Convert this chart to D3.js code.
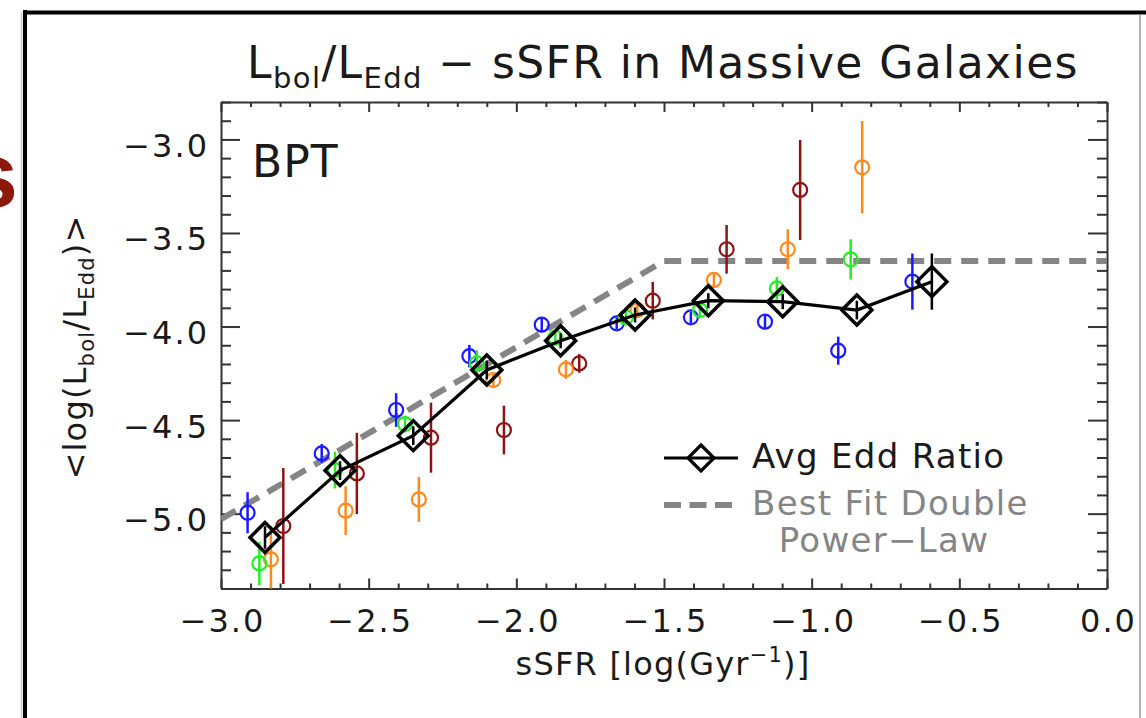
<!DOCTYPE html>
<html>
<head>
<meta charset="utf-8">
<script src="https://cdn.jsdelivr.net/npm/d3@7"></script>
<style>
  html, body { margin: 0; padding: 0; background: #fff; }
  svg { display: block; }
  text { font-family: "DejaVu Sans", sans-serif; fill: #1a1a1a; }
</style>
</head>
<body>
<svg id="chart" width="1146" height="718"></svg>
<script>
// ---------------- data ----------------
const xDomain = [-3.0, 0.0];
const yDomain = [-5.4, -2.8];
const xMajorTicks = [-3.0, -2.5, -2.0, -1.5, -1.0, -0.5, 0.0];
const yMajorTicks = [-5.0, -4.5, -4.0, -3.5, -3.0];

const blueX   = [-2.910, -2.659, -2.407, -2.159, -1.914, -1.660, -1.409, -1.158, -0.910, -0.659];
const blueY   = [-4.995, -4.678, -4.446, -4.158, -3.990, -3.983, -3.951, -3.974, -4.129, -3.760];
const blueErr = [0.11, 0.05, 0.09, 0.06, 0.04, 0.03, 0.03, 0.04, 0.075, 0.15];

const greenX   = [-2.870, -2.614, -2.377, -2.134, -1.868, -1.629, -1.378, -1.118, -0.868];
const greenY   = [-5.266, -4.767, -4.521, -4.197, -4.060, -3.951, -3.912, -3.796, -3.641];
const greenErr = [0.115, 0.098, 0.045, 0.07, 0.03, 0.04, 0.04, 0.06, 0.108];

const orangeX   = [-2.831, -2.578, -2.330, -2.078, -1.832, -1.590, -1.331, -1.081, -0.829];
const orangeY   = [-5.244, -4.984, -4.924, -4.286, -4.229, -3.912, -3.751, -3.587, -3.149];
const orangeErr = [0.18, 0.13, 0.12, 0.04, 0.05, 0.04, 0.035, 0.107, 0.247];

const redX   = [-2.789, -2.540, -2.289, -2.042, -1.787, -1.538, -1.288, -1.039];
const redY   = [-5.066, -4.785, -4.594, -4.553, -4.197, -3.862, -3.587, -3.270];
const redErr = [0.31, 0.217, 0.187, 0.13, 0.05, 0.10, 0.13, 0.267];

const avgX   = [-2.851, -2.597, -2.349, -2.100, -1.850, -1.598, -1.350, -1.098, -0.847, -0.593];
const avgY   = [-5.127, -4.770, -4.583, -4.232, -4.076, -3.938, -3.862, -3.867, -3.912, -3.760];
const avgErr = [0.06, 0.05, 0.05, 0.05, 0.04, 0.04, 0.04, 0.04, 0.05, 0.15];

const fitX = [-3.0, -1.5, 0.0];
const fitY = [-5.03, -3.65, -3.65];

const seriesColors = { blue: "#1a1aff", green: "#22ee22", orange: "#ff8a1c", red: "#8e1414" };

// ---------------- layout ----------------
const svg = d3.select("#chart");
const L = 221, R = 1107, T = 102, B = 588.5;
const x = d3.scaleLinear().domain(xDomain).range([L, R]);
const y = d3.scaleLinear().domain(yDomain).range([B, T]);

// slide frame
svg.append("line").attr("x1", 21.5).attr("x2", 21.5).attr("y1", 12).attr("y2", 718)
  .attr("stroke", "#c8c8c8").attr("stroke-width", 1.5);
svg.append("line").attr("x1", 25).attr("x2", 25).attr("y1", 10).attr("y2", 718)
  .attr("stroke", "#000").attr("stroke-width", 4);
svg.append("line").attr("x1", 23).attr("x2", 1146).attr("y1", 12.5).attr("y2", 12.5)
  .attr("stroke", "#000").attr("stroke-width", 4);
svg.append("line").attr("x1", 1140).attr("x2", 1140).attr("y1", 14).attr("y2", 718)
  .attr("stroke", "#9a9a9a").attr("stroke-width", 1.5);

// red partial letter at the left edge (cut off in the reference too)
svg.append("text").attr("x", 18).attr("y", 207).attr("text-anchor", "end")
  .style("font-family", "'Liberation Sans', sans-serif").style("font-weight", "bold")
  .style("font-size", "92px").style("fill", "#8b1a0c").text("s");

// clip
svg.append("clipPath").attr("id", "plotclip").append("rect")
  .attr("x", L).attr("y", T).attr("width", R - L).attr("height", B - T);

// ---------------- axes ----------------
const fmt = d3.format(".1f");
const minorX = d3.range(-30, 1).map(d => d / 10).filter(v => !xMajorTicks.some(m => Math.abs(m - v) < 1e-6));
const minorY = d3.range(-54, -27).map(d => d / 10).filter(v => !yMajorTicks.some(m => Math.abs(m - v) < 1e-6));

function styleAxis(g) {
  g.selectAll("path.domain").attr("stroke", "#333").attr("stroke-width", 2);
  g.selectAll(".tick line").attr("stroke", "#333").attr("stroke-width", 2);
}

// bottom
const gB = svg.append("g").attr("transform", `translate(0,${B})`)
  .call(d3.axisBottom(x).tickValues(xMajorTicks).tickSize(-10).tickSizeOuter(0).tickFormat(fmt));
gB.selectAll("text").attr("y", 43.5).attr("dy", null).attr("dx", 1)
  .style("font-size", "32px").style("letter-spacing", "2px").style("fill", "#1a1a1a");
svg.append("g").attr("transform", `translate(0,${B})`)
  .call(d3.axisBottom(x).tickValues(minorX).tickSize(-5).tickSizeOuter(0).tickFormat(""))
  .call(g => g.select(".domain").remove()).call(styleAxis);
styleAxis(gB);
// top
svg.append("g").attr("transform", `translate(0,${T})`)
  .call(d3.axisTop(x).tickValues(xMajorTicks).tickSize(-10).tickSizeOuter(0).tickFormat(""))
  .call(styleAxis);
svg.append("g").attr("transform", `translate(0,${T})`)
  .call(d3.axisTop(x).tickValues(minorX).tickSize(-5).tickSizeOuter(0).tickFormat(""))
  .call(g => g.select(".domain").remove()).call(styleAxis);
// left
const gL = svg.append("g").attr("transform", `translate(${L},0)`)
  .call(d3.axisLeft(y).tickValues(yMajorTicks).tickSize(-19).tickSizeOuter(0).tickFormat(fmt));
gL.selectAll("text").attr("x", -12).attr("dy", null).attr("y", 17)
  .style("font-size", "32px").style("letter-spacing", "2px").style("fill", "#1a1a1a");
styleAxis(gL);
svg.append("g").attr("transform", `translate(${L},0)`)
  .call(d3.axisLeft(y).tickValues(minorY).tickSize(-10).tickSizeOuter(0).tickFormat(""))
  .call(g => g.select(".domain").remove()).call(styleAxis);
// right
svg.append("g").attr("transform", `translate(${R},0)`)
  .call(d3.axisRight(y).tickValues(yMajorTicks).tickSize(-19).tickSizeOuter(0).tickFormat(""))
  .call(styleAxis);
svg.append("g").attr("transform", `translate(${R},0)`)
  .call(d3.axisRight(y).tickValues(minorY).tickSize(-10).tickSizeOuter(0).tickFormat(""))
  .call(g => g.select(".domain").remove()).call(styleAxis);

// ---------------- marks ----------------
const plot = svg.append("g").attr("clip-path", "url(#plotclip)");

// best-fit double power law
const fitData = fitX.map((v, i) => [v, fitY[i]]);
plot.append("path").datum(fitData)
  .attr("d", d3.line().x(d => x(d[0])).y(d => y(d[1])))
  .attr("fill", "none").attr("stroke", "#858585").attr("stroke-width", 6)
  .attr("stroke-dasharray", "17,10");

function drawSeries(xs, ys, es, color) {
  const data = xs.map((v, i) => ({ x: v, y: ys[i], e: es[i] }));
  const g = plot.append("g");
  g.selectAll("line").data(data).join("line")
    .attr("x1", d => x(d.x)).attr("x2", d => x(d.x))
    .attr("y1", d => y(d.y - d.e)).attr("y2", d => y(d.y + d.e))
    .attr("stroke", color).attr("stroke-width", 2.5);
  g.selectAll("circle").data(data).join("circle")
    .attr("cx", d => x(d.x)).attr("cy", d => y(d.y)).attr("r", 7)
    .attr("fill", "none").attr("stroke", color).attr("stroke-width", 2.2);
}
drawSeries(blueX, blueY, blueErr, seriesColors.blue);
drawSeries(redX, redY, redErr, seriesColors.red);
drawSeries(orangeX, orangeY, orangeErr, seriesColors.orange);
drawSeries(greenX, greenY, greenErr, seriesColors.green);

// average Eddington ratio
const avgData = avgX.map((v, i) => ({ x: v, y: avgY[i], e: avgErr[i] }));
plot.append("path").datum(avgData)
  .attr("d", d3.line().x(d => x(d.x)).y(d => y(d.y)))
  .attr("fill", "none").attr("stroke", "#000").attr("stroke-width", 3.2);
plot.append("g").selectAll("line").data(avgData).join("line")
  .attr("x1", d => x(d.x)).attr("x2", d => x(d.x))
  .attr("y1", d => y(d.y - d.e)).attr("y2", d => y(d.y + d.e))
  .attr("stroke", "#000").attr("stroke-width", 2.5);
const dia = 15;
const diamondPath = `M0,${-dia}L${dia},0L0,${dia}L${-dia},0Z`;
plot.append("g").selectAll("path").data(avgData).join("path")
  .attr("transform", d => `translate(${x(d.x)},${y(d.y)})`)
  .attr("d", diamondPath).attr("fill", "none").attr("stroke", "#000")
  .attr("stroke-width", 3.5).attr("stroke-linejoin", "miter");

// ---------------- legend ----------------
const leg = svg.append("g");
leg.append("line").attr("x1", 664).attr("x2", 738).attr("y1", 458).attr("y2", 458)
  .attr("stroke", "#000").attr("stroke-width", 3.2);
leg.append("path").attr("transform", "translate(701,458)").attr("d", `M0,-13L13,0L0,13L-13,0Z`)
  .attr("fill", "none").attr("stroke", "#000").attr("stroke-width", 3.2);
leg.append("text").attr("x", 752).attr("y", 468).style("font-size", "34px")
  .style("letter-spacing", "1.3px").text("Avg Edd Ratio");
leg.append("line").attr("x1", 664).attr("x2", 732).attr("y1", 505).attr("y2", 505)
  .attr("stroke", "#858585").attr("stroke-width", 6).attr("stroke-dasharray", "17,8.5");
leg.append("text").attr("x", 752).attr("y", 515).style("font-size", "34px").style("fill", "#858585")
  .style("letter-spacing", "1.3px").text("Best Fit Double");
leg.append("text").attr("x", 884).attr("y", 552).attr("text-anchor", "middle")
  .style("font-size", "34px").style("fill", "#858585").style("letter-spacing", "1.3px")
  .text("Power\u2212Law");

// BPT
svg.append("text").attr("x", 252).attr("y", 177).style("font-size", "44px")
  .style("letter-spacing", "1px").text("BPT");

// ---------------- titles ----------------
const title = svg.append("text").attr("x", 663).attr("y", 78).attr("text-anchor", "middle")
  .style("font-size", "44px").style("letter-spacing", "1.4px");
title.append("tspan").text("L");
title.append("tspan").attr("dy", 10).style("font-size", "29px").text("bol");
title.append("tspan").attr("dy", -10).text("/L");
title.append("tspan").attr("dy", 10).style("font-size", "29px").text("Edd");
title.append("tspan").attr("dy", -10).text(" \u2212 sSFR in Massive Galaxies");

const xl = svg.append("text").attr("x", 663).attr("y", 675).attr("text-anchor", "middle")
  .style("font-size", "32px").style("letter-spacing", "1.2px");
xl.append("tspan").text("sSFR [log(Gyr");
xl.append("tspan").attr("dy", -13).style("font-size", "21px").text("\u22121");
xl.append("tspan").attr("dy", 13).text(")]");

const yl = svg.append("text").attr("transform", "translate(86,347) rotate(-90)")
  .attr("text-anchor", "middle").style("font-size", "32px").style("letter-spacing", "1.2px");
yl.append("tspan").text("<log(L");
yl.append("tspan").attr("dy", 8).style("font-size", "21px").text("bol");
yl.append("tspan").attr("dy", -8).text("/L");
yl.append("tspan").attr("dy", 8).style("font-size", "21px").text("Edd");
yl.append("tspan").attr("dy", -8).text(")>");
</script>
</body>
</html>
